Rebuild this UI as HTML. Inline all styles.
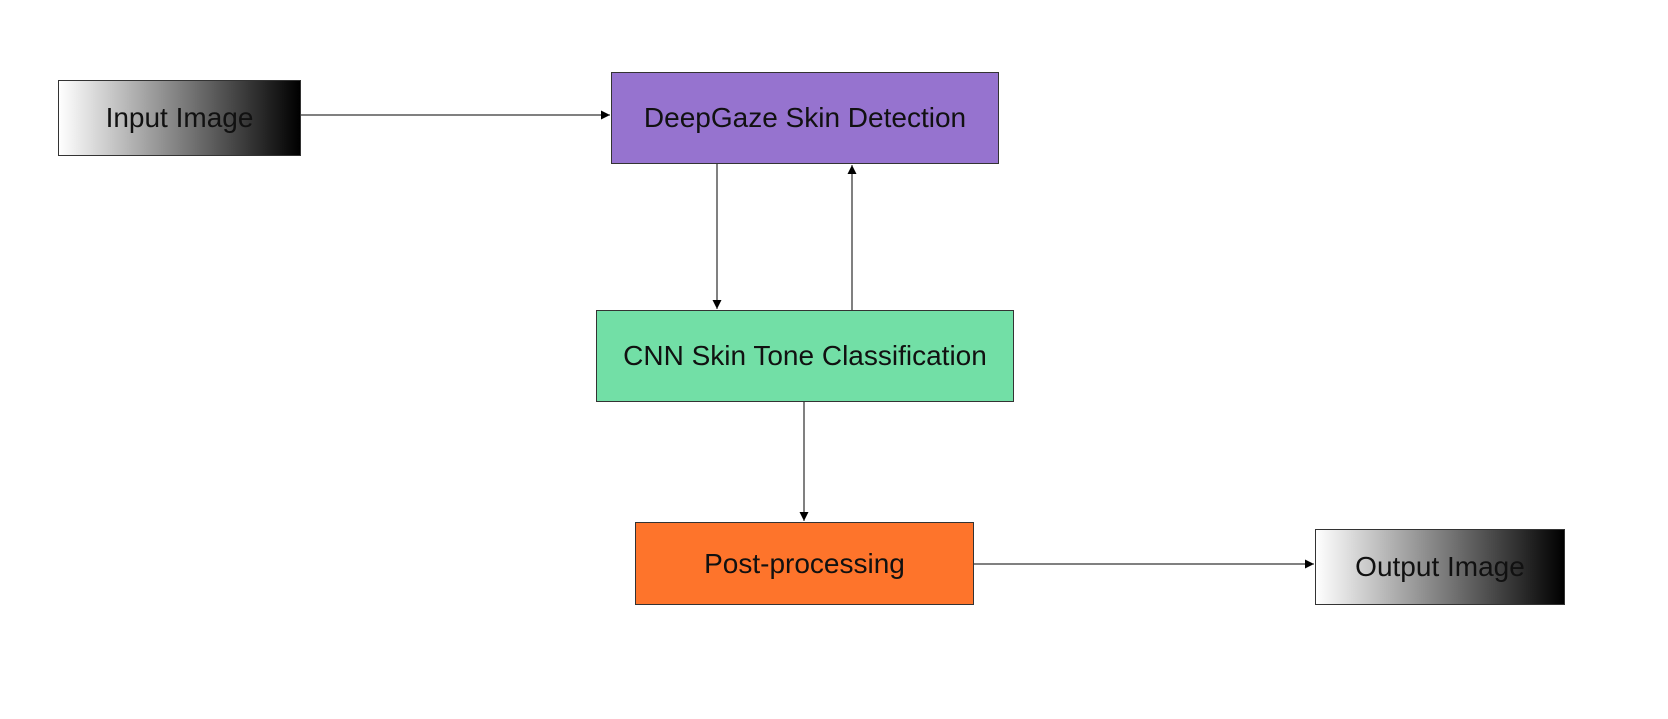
<!DOCTYPE html>
<html><head><meta charset="utf-8"><style>
body{margin:0;width:1668px;height:719px;background:#fff;overflow:hidden;position:relative;font-family:"Liberation Sans",sans-serif}
.b{position:absolute;box-sizing:border-box;border:1px solid #333;display:flex;align-items:center;justify-content:center;font-size:28px;color:#111;white-space:nowrap}
.g{background:linear-gradient(to right,#fff,#000)}
</style></head><body>
<svg width="1668" height="719" style="position:absolute;left:0;top:0">
<defs><marker id="a" markerWidth="9" markerHeight="9" refX="9" refY="4.5" orient="auto" markerUnits="userSpaceOnUse"><path d="M0,0L9,4.5L0,9z" fill="#000"/></marker></defs>
<g stroke="#000" stroke-width="1" fill="none">
<line x1="301" y1="115" x2="610" y2="115" marker-end="url(#a)"/>
<line x1="717" y1="164" x2="717" y2="309" marker-end="url(#a)"/>
<line x1="852" y1="310" x2="852" y2="165" marker-end="url(#a)"/>
<line x1="804" y1="401" x2="804" y2="521" marker-end="url(#a)"/>
<line x1="973" y1="564" x2="1314" y2="564" marker-end="url(#a)"/>
</g></svg>
<div class="b g" style="left:58px;top:80px;width:243px;height:76px">Input Image</div>
<div class="b" style="left:611px;top:72px;width:388px;height:92px;background:#9673cf">DeepGaze Skin Detection</div>
<div class="b" style="left:596px;top:310px;width:418px;height:92px;background:#72dfa6">CNN Skin Tone Classification</div>
<div class="b" style="left:635px;top:522px;width:339px;height:83px;background:#fe742b">Post-processing</div>
<div class="b g" style="left:1315px;top:529px;width:250px;height:76px">Output Image</div>
</body></html>
